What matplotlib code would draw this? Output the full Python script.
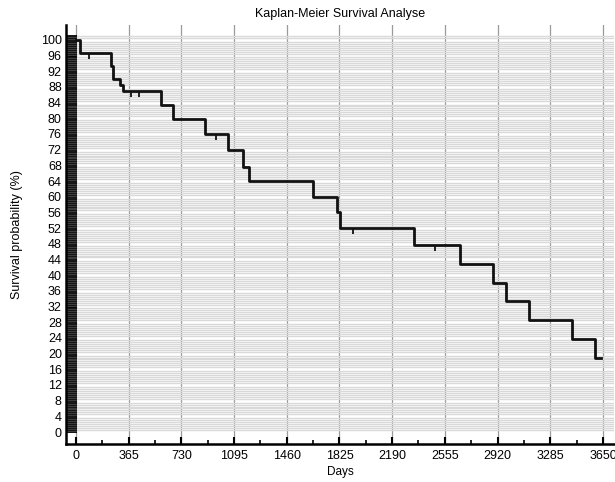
import numpy as np
import matplotlib
matplotlib.use('Agg')
import matplotlib.pyplot as plt

# step curve (days, survival %)
days = [0, 28, 242, 256, 305, 328, 586, 674, 893, 1055, 1154, 1200,
        1645, 1805, 1828, 2341, 2659, 2890, 2982, 3138, 3437, 3594, 3640]
surv = [100, 96.7, 93.3, 90.0, 88.5, 86.9, 83.4, 79.8, 75.9, 71.9, 67.7, 64.1,
        60.0, 56.0, 51.9, 47.6, 42.9, 38.1, 33.3, 28.6, 23.8, 19.0, 19.0]

# censored observations
cens_days = [90, 379, 436, 972, 1920, 2490]
cens_surv = [96.7, 86.9, 86.9, 75.9, 51.9, 47.6]

x_ticks = [0, 365, 730, 1095, 1460, 1825, 2190, 2555, 2920, 3285, 3650]
y_ticks = list(range(0, 101, 4))

plt.rcParams['font.family'] = ['Liberation Sans', 'DejaVu Sans']

fig = plt.figure(figsize=(6.15, 4.82), dpi=100)
ax = fig.add_axes([0.1073, 0.0788, 0.8907, 0.8695])

ax.set_xlim(-69, 3725)
ax.set_ylim(-3.06, 103.8)

# striped horizontal grid and vertical lines at major x ticks
ax.set_yticks(np.arange(0, 101.5, 0.5), minor=True)
ax.grid(which='minor', axis='y', color='#d9d9d9', lw=1.0)
ax.set_xticks(x_ticks)
ax.set_xticks(np.array(x_ticks[:-1]) + 182.5, minor=True)
ax.grid(which='major', axis='x', color='#9a9a9a', lw=0.9)
ax.set_axisbelow(True)

ax.step(days, surv, where='post', color='#111111', lw=2.0, zorder=3)
ax.plot(cens_days, cens_surv, ls='none', marker=[(0, 0), (0, -1)],
        ms=9, mew=1.3, color='#111111', zorder=3)

ax.set_yticks(y_ticks)
ax.tick_params(axis='y', which='both', direction='in', length=8, width=1.3,
               pad=3, labelsize=9, color='black')
ax.tick_params(axis='x', which='major', direction='in', length=5, width=1.5,
               pad=4, labelsize=9)
ax.tick_params(axis='x', which='minor', direction='in', length=3, width=1.2)

for s in ['top', 'right']:
    ax.spines[s].set_visible(False)
ax.spines['left'].set_linewidth(1.8)
ax.spines['bottom'].set_linewidth(1.8)

ax.set_title('Kaplan-Meier Survival Analyse', fontsize=9, pad=6)
ax.set_xlabel('Days', fontsize=8.5, labelpad=3)
ax.set_ylabel('Survival probability (%)', fontsize=9, labelpad=13)

fig.savefig('out.png', dpi=100)
